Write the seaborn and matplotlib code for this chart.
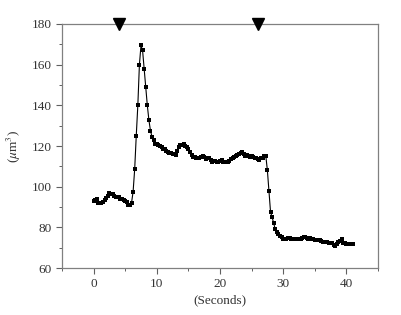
import numpy as np
import pandas as pd
import matplotlib
matplotlib.use("Agg")
import matplotlib.pyplot as plt
import seaborn as sns
from matplotlib.ticker import MultipleLocator

# Sampling time step (s) and volume values
time_step = 0.25
volume = [
    93.2, 93.6, 94.0, 92.0, 91.8, 91.8, 92.5, 93.5, 94.3, 95.5, 97.0, 96.5,
    96.4, 95.2, 95.0, 94.8, 94.8, 93.8, 94.1, 93.5, 93.0, 92.6, 91.0, 90.8,
    92.0, 97.5, 108.5, 125.0, 140.0, 160.0, 169.5, 167.0, 158.0, 149.0, 140.0, 132.8,
    127.5, 124.5, 123.0, 121.2, 121.0, 120.3, 120.0, 119.6, 118.5, 118.3, 117.5, 117.0,
    116.7, 116.5, 116.0, 116.0, 115.5, 117.5, 119.5, 120.5, 120.5, 121.0, 120.0, 119.7,
    118.5, 117.0, 115.5, 114.7, 114.4, 114.2, 114.2, 114.0, 114.5, 115.1, 114.5, 113.6,
    114.0, 114.3, 113.0, 112.3, 112.5, 112.8, 112.3, 112.3, 112.5, 113.0, 112.3, 112.0,
    112.0, 112.0, 112.8, 113.5, 114.0, 114.5, 115.2, 115.6, 115.9, 116.5, 116.9, 116.0,
    115.2, 115.5, 115.0, 114.7, 115.0, 114.7, 114.0, 114.0, 113.5, 113.1, 114.0, 114.2,
    115.1, 115.2, 108.0, 98.0, 87.5, 85.0, 82.0, 79.0, 77.5, 76.8, 76.0, 75.5,
    74.3, 74.1, 74.5, 74.9, 74.9, 74.5, 74.1, 74.1, 74.5, 74.5, 74.5, 74.5,
    75.0, 75.4, 75.4, 75.0, 74.5, 74.8, 74.5, 74.5, 74.0, 74.0, 73.8, 73.8,
    73.5, 73.0, 72.9, 72.9, 72.9, 72.5, 72.1, 72.1, 71.5, 70.8, 72.0, 72.9,
    73.5, 74.1, 72.5, 72.1, 71.8, 71.8, 71.8, 71.8, 71.8,
]
seconds = [i * time_step for i in range(len(volume))]

# Stimulus markers (s)
stimulus_times = [4, 26]

x_ticks = [0, 10, 20, 30, 40]
y_ticks = [60, 80, 100, 120, 140, 160, 180]

df = pd.DataFrame({"Seconds": seconds, "Volume": volume})

sns.set_style("ticks")
plt.rcParams["font.family"] = ["Liberation Serif", "DejaVu Serif"]
plt.rcParams["mathtext.fontset"] = "stix"

fig = plt.figure(figsize=(4.01, 3.15), dpi=100)
ax = fig.add_axes([0.1546, 0.149, 0.788, 0.775])

sns.lineplot(data=df, x="Seconds", y="Volume", ax=ax, color="black",
             linewidth=0.8, marker="s", markersize=2.3, markeredgewidth=0,
             estimator=None)

ax.plot(stimulus_times, [180] * len(stimulus_times), linestyle="none",
        marker="v", markersize=8.5, color="black", clip_on=False, zorder=5)

ax.set_xlim(-5, 45)
ax.set_ylim(60, 180)
ax.set_xticks(x_ticks)
ax.set_yticks(y_ticks)
ax.xaxis.set_minor_locator(MultipleLocator(5))
ax.yaxis.set_minor_locator(MultipleLocator(10))

for sp in ax.spines.values():
    sp.set_visible(True)
    sp.set_color("#808080")
    sp.set_linewidth(0.9)

ax.tick_params(which="major", direction="out", length=4, width=0.8,
               color="#606060", labelsize=9.5, labelcolor="#333333",
               top=False, right=False)
ax.tick_params(which="minor", direction="out", length=2.5, width=0.7,
               color="#606060", top=False, right=False)

ax.set_xlabel("(Seconds)", fontsize=9.5, color="#333333", labelpad=3)
ax.set_ylabel(r"($\mu$m$^3$)", fontsize=9.5, color="#333333", labelpad=6)

fig.savefig("out.png", dpi=100)
